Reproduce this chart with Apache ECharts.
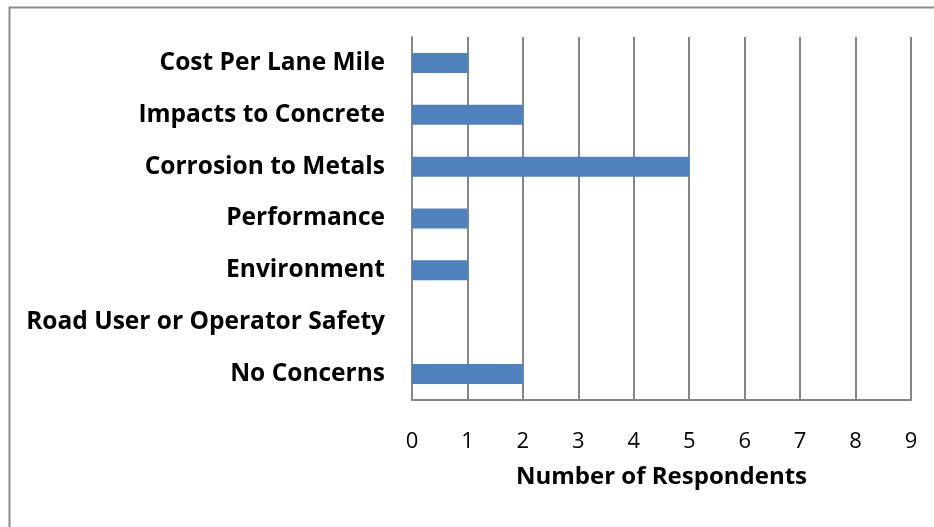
<!DOCTYPE html>
<html><head><meta charset="utf-8">
<script src="https://cdn.jsdelivr.net/npm/echarts@6/dist/echarts.min.js"></script>
<style>html,body{margin:0;padding:0;background:#fff}#c{width:934px;height:527px}</style>
</head><body><div id="c"></div>
<script>
const categories = ["Cost Per Lane Mile","Impacts to Concrete","Corrosion to Metals","Performance","Environment","Road User or Operator Safety","No Concerns"];
const respondents = [1,2,5,1,1,0,2];
const xTicks = [0,1,2,3,4,5,6,7,8,9];

const FONT = 'Open Sans';
const chart = echarts.init(document.getElementById('c'), null, {renderer:'canvas'});
chart.setOption({
  animation:false,
  backgroundColor:'#fff',
  graphic:[{type:'rect',shape:{x:9.5,y:7.5,width:1000,height:1000},style:{fill:'none',stroke:'#8c8c8c',lineWidth:2},silent:true}],
  grid:{left:412,right:934-911,top:37,bottom:527-400},
  xAxis:{type:'value',min:0,max:9,interval:1,
    name:'Number of Respondents',nameLocation:'middle',nameGap:65,
    nameTextStyle:{fontFamily:FONT,fontWeight:'bold',fontSize:24,color:'#000'},
    axisLine:{show:true,lineStyle:{color:'#868686',width:2}},
    axisTick:{show:false},
    axisLabel:{fontFamily:FONT,fontSize:22,color:'#000',margin:31,formatter:v=>xTicks.includes(v)?String(v):''},
    splitLine:{show:true,lineStyle:{color:'#868686',width:2}}
  },
  yAxis:{type:'category',data:categories,inverse:true,
    axisLine:{show:true,lineStyle:{color:'#868686',width:2}},
    axisTick:{show:false},
    axisLabel:{fontFamily:FONT,fontWeight:'bold',fontSize:24.5,color:'#000',margin:27}
  },
  series:[{type:'bar',data:respondents,barWidth:20,itemStyle:{color:'#4F81BD'}}]
});
</script></body></html>
